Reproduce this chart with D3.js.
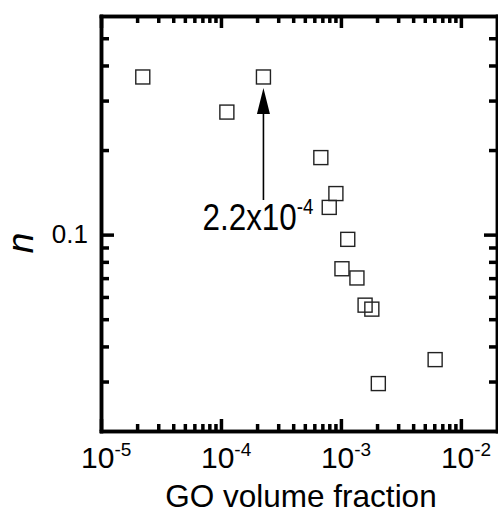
<!DOCTYPE html>
<html>
<head>
<meta charset="utf-8">
<script src="https://cdn.jsdelivr.net/npm/d3@7"></script>
<style>
  body { margin: 0; background: #fff; }
  svg { display: block; }
  text { font-family: "Liberation Sans", Arial, sans-serif; fill: #000; }
  .ax path, .ax line { stroke: #000 !important; stroke-width: 3.5px !important; }
</style>
</head>
<body>
<div id="chart"></div>
<script>
// GO volume fraction vs. n (log-log)
var fractionGO = [2.23e-5, 1.12e-4, 2.26e-4, 6.8e-4, 9.08e-4, 7.99e-4, 1.14e-3, 1.02e-3, 1.36e-3, 1.59e-3, 1.81e-3, 6.1e-3, 2.05e-3];
var nValues = [0.364, 0.273, 0.364, 0.188, 0.140, 0.125, 0.0962, 0.0756, 0.0701, 0.0561, 0.0543, 0.0359, 0.0295];

var xMajor = [1e-5, 1e-4, 1e-3, 1e-2];
var xMajorExp = ["-5", "-4", "-3", "-2"];
var yMajor = [0.1];
var yMajorLabels = ["0.1"];
var arrowAt = 2.26e-4;
var arrowLabel = "2.2x10";
var arrowLabelExp = "-4";

var width = 498, height = 513;
var margin = {top: 16, right: 1, bottom: 82, left: 101};
var innerW = width - margin.left - margin.right;
var innerH = height - margin.top - margin.bottom;

var svg = d3.select("#chart")
    .append("svg")
    .attr("width", width)
    .attr("height", height);

var g = svg.append("g")
    .attr("transform", "translate(" + margin.left + "," + margin.top + ")");

var x = d3.scaleLog().domain([1e-5, 0.02]).range([0, innerW]);
var y = d3.scaleLog().domain([0.02, 0.6]).range([innerH, 0]);

// minor tick values
var xMinor = [];
[1e-5, 1e-4, 1e-3].forEach(function (d) {
    for (var k = 2; k <= 9; k++) xMinor.push(d * k);
});
var yMinor = [0.03, 0.04, 0.05, 0.06, 0.07, 0.08, 0.09, 0.2, 0.3, 0.4, 0.5];

function styleAxis(sel) {
    sel.attr("class", "ax");
    sel.select(".domain").attr("stroke-linecap", "square");
    sel.selectAll(".tick text").remove();
}

// bottom / top
g.append("g").attr("transform", "translate(0," + innerH + ")")
    .call(d3.axisBottom(x).tickValues(xMinor).tickSizeInner(-7).tickSizeOuter(0).tickFormat(""))
    .call(styleAxis);
g.append("g").attr("transform", "translate(0," + innerH + ")")
    .call(d3.axisBottom(x).tickValues(xMajor).tickSizeInner(-12).tickSizeOuter(0).tickFormat(""))
    .call(styleAxis);
g.append("g")
    .call(d3.axisTop(x).tickValues(xMinor).tickSizeInner(-7).tickSizeOuter(0).tickFormat(""))
    .call(styleAxis);
g.append("g")
    .call(d3.axisTop(x).tickValues(xMajor).tickSizeInner(-12).tickSizeOuter(0).tickFormat(""))
    .call(styleAxis);

// left / right
g.append("g")
    .call(d3.axisLeft(y).tickValues(yMinor).tickSizeInner(-8).tickSizeOuter(0).tickFormat(""))
    .call(styleAxis);
g.append("g")
    .call(d3.axisLeft(y).tickValues(yMajor).tickSizeInner(-13).tickSizeOuter(0).tickFormat(""))
    .call(styleAxis);
g.append("g").attr("transform", "translate(" + innerW + ",0)")
    .call(d3.axisRight(y).tickValues(yMinor).tickSizeInner(-8).tickSizeOuter(0).tickFormat(""))
    .call(styleAxis);
g.append("g").attr("transform", "translate(" + innerW + ",0)")
    .call(d3.axisRight(y).tickValues(yMajor).tickSizeInner(-13).tickSizeOuter(0).tickFormat(""))
    .call(styleAxis);

// x tick labels 10^k
xMajor.forEach(function (d, i) {
    var t = g.append("text")
        .attr("x", x(d) - 20)
        .attr("y", innerH + 37)
        .style("font-size", "30px");
    t.append("tspan").text("10");
    t.append("tspan").attr("dy", -12).style("font-size", "19px").text(xMajorExp[i]);
});

// y tick labels
yMajor.forEach(function (d, i) {
    g.append("text")
        .attr("x", -13)
        .attr("y", y(d) + 8)
        .attr("text-anchor", "end")
        .style("font-size", "26px")
        .text(yMajorLabels[i]);
});

// axis titles
svg.append("text")
    .attr("x", 301)
    .attr("y", 507)
    .attr("text-anchor", "middle")
    .style("font-size", "31.5px")
    .text("GO volume fraction");

svg.append("text")
    .attr("transform", "translate(33,243) rotate(-90)")
    .attr("text-anchor", "middle")
    .style("font-size", "37px")
    .style("font-style", "italic")
    .text("n");

// data points: open squares
var s = 14;
g.append("g")
    .selectAll("rect")
    .data(fractionGO.map(function (d, i) { return {x: d, n: nValues[i]}; }))
    .enter()
    .append("rect")
    .attr("x", function (d) { return x(d.x) - s / 2; })
    .attr("y", function (d) { return y(d.n) - s / 2; })
    .attr("width", s)
    .attr("height", s)
    .attr("fill", "none")
    .attr("stroke", "#222")
    .attr("stroke-width", 1.4);

// arrow
var ax = x(arrowAt);
var tipY = y(nValues[2]) + 11;
g.append("line")
    .attr("x1", ax).attr("x2", ax)
    .attr("y1", 184).attr("y2", tipY + 20)
    .attr("stroke", "#000")
    .attr("stroke-width", 1.6);
g.append("path")
    .attr("d", "M" + ax + "," + tipY + " L" + (ax - 6.5) + "," + (tipY + 26) + " L" + (ax + 6.5) + "," + (tipY + 26) + " Z")
    .attr("fill", "#000");

var lab = g.append("text")
    .attr("transform", "translate(" + (ax - 61) + ",214) scale(0.85,1)")
    .style("font-size", "37px");
lab.append("tspan").text(arrowLabel);
lab.append("tspan").attr("dy", -16).style("font-size", "22px").text(arrowLabelExp);
</script>
</body>
</html>
